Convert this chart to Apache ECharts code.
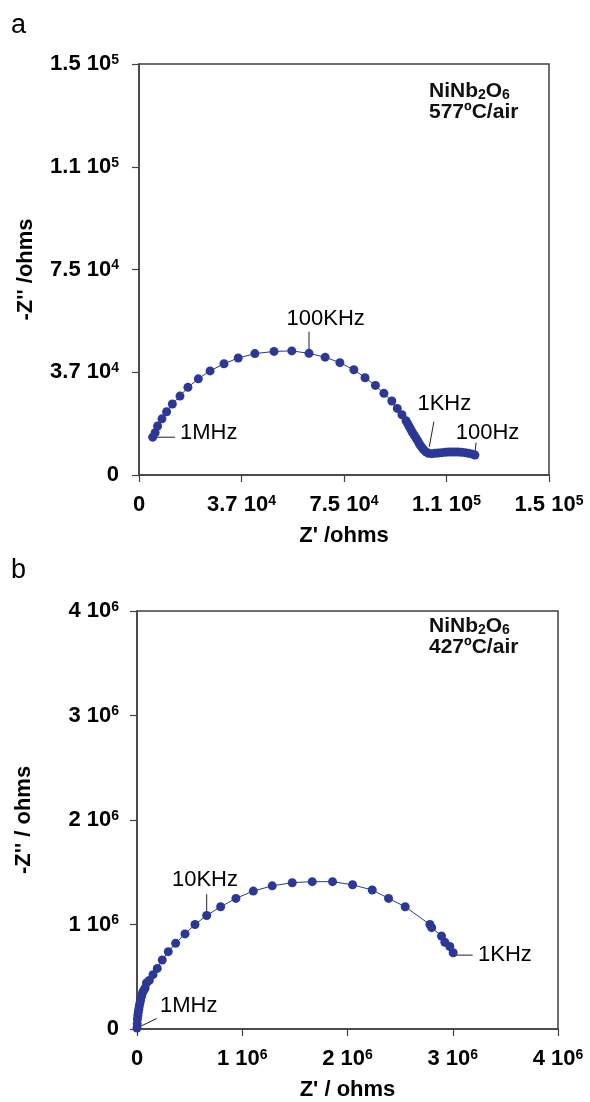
<!DOCTYPE html>
<html>
<head>
<meta charset="utf-8">
<script src="https://cdn.jsdelivr.net/npm/echarts@6/dist/echarts.min.js"></script>
<style>
html,body{margin:0;padding:0;background:#fff;}
#chart{width:590px;height:1102px;}
</style>
</head>
<body>
<div id="chart"></div>
<script>
// ---------- DATA ----------
// Panel a: NiNb2O6, 577 ºC / air  (Z', -Z'') in ohms
const topZre = [5000, 5900, 6800, 8400, 10100, 12200, 15000, 17900, 21700, 26000, 31100, 36300, 42400, 49400, 55900, 62200, 68100, 73500, 78600, 82700, 86500, 89600, 92500, 94500, 96200, 97700, 98300, 98900, 99500, 100100, 100700, 101400, 102000, 102600, 103300, 104000, 104900, 105900, 107100, 108300, 109500, 110700, 112000, 113200, 114400, 115600, 116800, 118000, 119300, 120500, 121700, 122900];
const topZim = [13800, 15400, 17900, 20500, 23100, 25900, 28800, 32000, 35100, 38000, 40600, 42700, 44300, 45100, 45300, 44400, 43000, 41000, 38400, 35500, 32700, 29800, 27000, 24300, 22000, 19800, 18700, 17600, 16500, 15400, 14500, 13400, 12400, 11300, 10300, 9400, 8500, 7900, 7800, 7900, 8000, 8150, 8300, 8400, 8400, 8400, 8400, 8300, 8150, 7900, 7700, 7300];

// Panel b: NiNb2O6, 427 ºC / air  (Z', -Z'') in ohms
const botZre = [0, 2000, 4000, 8000, 12000, 17000, 22000, 28000, 35000, 44000, 54000, 65000, 76000, 90000, 117000, 152000, 193000, 240000, 297000, 367000, 456000, 551000, 662000, 795000, 940000, 1105000, 1285000, 1475000, 1665000, 1858000, 2048000, 2235000, 2390000, 2548000, 2783000, 2800000, 2893000, 2925000, 2972000, 3004000];
const botZim = [10000, 50000, 95000, 130000, 160000, 190000, 220000, 250000, 280000, 315000, 350000, 370000, 390000, 440000, 465000, 520000, 580000, 660000, 740000, 820000, 910000, 1000000, 1086000, 1170000, 1250000, 1320000, 1370000, 1400000, 1410000, 1410000, 1380000, 1330000, 1250000, 1170000, 1000000, 970000, 890000, 830000, 790000, 730000];

// Tick values and labels  [mantissa text, exponent]
const topTicks = [0, 37500, 75000, 112500, 150000];
const topTickLabels = [['0', ''], ['3.7 10', '4'], ['7.5 10', '4'], ['1.1 10', '5'], ['1.5 10', '5']];
const botTicks = [0, 1000000, 2000000, 3000000, 4000000];
const botTickLabels = [['0', ''], ['1 10', '6'], ['2 10', '6'], ['3 10', '6'], ['4 10', '6']];

// Frequency annotations
const topFreqLabels = ['1MHz', '100KHz', '1KHz', '100Hz'];
const botFreqLabels = ['1MHz', '10KHz', '1KHz'];

// ---------- CHART ----------
const FONT = '"Liberation Sans", Arial, Helvetica, sans-serif';
const BLUE = '#2c3896';
const AXIS = '#404040';

function pairs(a, b) { return a.map((v, i) => [v, b[i]]); }

function labelFormatter(ticks, labels) {
  return function (v) {
    const i = ticks.findIndex(t => Math.abs(t - v) < 1e-6 * (Math.abs(t) + 1));
    if (i < 0) return '';
    const l = labels[i];
    return l[1] ? '{m|' + l[0] + '}{s|' + l[1] + '}' : '{m|' + l[0] + '}';
  };
}
const tickRich = {
  m: { fontFamily: FONT, fontWeight: 'bold', fontSize: 22, lineHeight: 22, color: '#000' },
  s: { fontFamily: FONT, fontWeight: 'bold', fontSize: 14, lineHeight: 9, verticalAlign: 'top', color: '#000' }
};

function makeX(gi, max, interval, ticks, labels, name, gap) {
  return {
    gridIndex: gi, type: 'value', min: 0, max: max, interval: interval,
    axisLine: { onZero: false, lineStyle: { color: AXIS, width: 1.5 } },
    axisTick: { length: 7, lineStyle: { color: AXIS, width: 1.2 } },
    splitLine: { show: false },
    axisLabel: { formatter: labelFormatter(ticks, labels), rich: tickRich, margin: 19 },
    name: name, nameLocation: 'middle', nameGap: gap,
    nameTextStyle: { fontFamily: FONT, fontWeight: 'bold', fontSize: 22, color: '#000' }
  };
}
function makeY(gi, max, interval, ticks, labels, name, margin) {
  return {
    gridIndex: gi, type: 'value', min: 0, max: max, interval: interval,
    axisLine: { onZero: false, lineStyle: { color: AXIS, width: 1.5 } },
    axisTick: { length: 7, lineStyle: { color: AXIS, width: 1.2 } },
    splitLine: { show: false },
    axisLabel: { formatter: labelFormatter(ticks, labels), rich: tickRich, margin: margin },
    name: name, nameLocation: 'middle', nameGap: 102,
    nameTextStyle: { fontFamily: FONT, fontWeight: 'bold', fontSize: 22, color: '#000' }
  };
}

function dataSeries(ax, data) {
  return {
    type: 'line', xAxisIndex: ax, yAxisIndex: ax, data: data,
    symbol: 'circle', symbolSize: 9, showSymbol: true,
    itemStyle: { color: BLUE }, lineStyle: { color: BLUE, width: 1 },
    z: 3, silent: true
  };
}
function connector(ax, pts) {
  return {
    type: 'line', xAxisIndex: ax, yAxisIndex: ax, data: pts, symbol: 'none',
    lineStyle: { color: '#222', width: 1 }, z: 2, silent: true
  };
}
function textSeries(ax, items) {
  return {
    type: 'scatter', xAxisIndex: ax, yAxisIndex: ax, symbolSize: 0.1,
    itemStyle: { color: 'transparent', opacity: 1 }, z: 4, silent: true,
    data: items.map(it => ({
      value: it.at, name: it.text,
      label: { show: true, formatter: '{b}', position: it.pos, distance: 0,
        fontFamily: FONT, fontSize: 22, color: '#000', opacity: 1 }
    }))
  };
}

// annotation placement (data units)
const topAnn = [
  { text: topFreqLabels[0], line: [[5000, 13800], [13200, 13800]], at: [15000, 15200], pos: 'right' },
  { text: topFreqLabels[1], line: [[62200, 44400], [62200, 52300]], at: [68300, 56900], pos: 'inside' },
  { text: topFreqLabels[2], line: [[106200, 10300], [107900, 19500]], at: [111700, 25900], pos: 'inside' },
  { text: topFreqLabels[3], line: [[122900, 7700], [123300, 11800]], at: [127500, 15400], pos: 'inside' }
];
const botAnn = [
  { text: botFreqLabels[0], line: [[0, 10000], [187000, 100000]], at: [218000, 220000], pos: 'right' },
  { text: botFreqLabels[1], line: [[662000, 1086000], [662000, 1290000]], at: [646000, 1430000], pos: 'inside' },
  { text: botFreqLabels[2], line: [[3020000, 707000], [3190000, 707000]], at: [3240000, 705000], pos: 'right' }
];

const series = [];
series.push(dataSeries(0, pairs(topZre, topZim)));
series.push(dataSeries(1, pairs(botZre, botZim)));
topAnn.forEach(a => series.push(connector(0, a.line)));
botAnn.forEach(a => series.push(connector(1, a.line)));
series.push(textSeries(0, topAnn));
series.push(textSeries(1, botAnn));

const noteRich = {
  b: { fontFamily: FONT, fontWeight: 'bold', fontSize: 21, lineHeight: 21, fill: '#111' },
  s: { fontFamily: FONT, fontWeight: 'bold', fontSize: 14, lineHeight: 16, verticalAlign: 'bottom', fill: '#111' }
};
function note(x, y, txt) {
  return { type: 'text', left: x, top: y, z: 10, silent: true,
    style: { text: txt, rich: noteRich, font: 'bold 21px ' + FONT, fill: '#111' } };
}

const option = {
  animation: false,
  backgroundColor: '#fff',
  grid: [
    { left: 139, top: 64, width: 410, height: 411, show: true, borderColor: AXIS, borderWidth: 1.5 },
    { left: 137, top: 611, width: 421, height: 422, show: true, borderColor: AXIS, borderWidth: 1.5 }
  ],
  xAxis: [
    makeX(0, 150000, 37500, topTicks, topTickLabels, "Z' /ohms", 50),
    makeX(1, 4000000, 1000000, botTicks, botTickLabels, "Z' / ohms", 50)
  ],
  yAxis: [
    makeY(0, 150000, 37500, topTicks, topTickLabels, "-Z'' /ohms", 20),
    makeY(1, 4000000, 1000000, botTicks, botTickLabels, "-Z'' / ohms", 18)
  ],
  series: series,
  graphic: [
    { type: 'text', left: 11, top: 12, silent: true, style: { text: 'a', font: '27px ' + FONT, fill: '#000' } },
    { type: 'text', left: 11, top: 557, silent: true, style: { text: 'b', font: '27px ' + FONT, fill: '#000' } },
    note(429, 81, '{b|NiNb}{s|2}{b|O}{s|6}'),
    note(429, 102, '{b|577ºC/air}'),
    note(429, 616, '{b|NiNb}{s|2}{b|O}{s|6}'),
    note(429, 637, '{b|427ºC/air}')
  ]
};

const chart = echarts.init(document.getElementById('chart'), null, { renderer: 'canvas' });
chart.setOption(option);
</script>
</body>
</html>
